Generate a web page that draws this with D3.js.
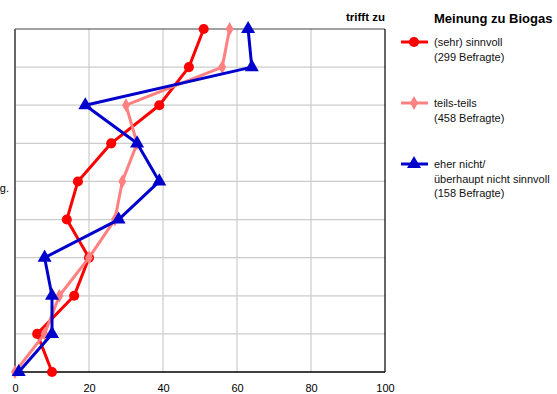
<!DOCTYPE html>
<html><head><meta charset="utf-8">
<script src="https://cdn.jsdelivr.net/npm/d3@7"></script>
<style>body{margin:0;background:#fff;} svg{display:block;font-family:"Liberation Sans",Arial,sans-serif;}</style>
</head><body><svg id="c" width="557" height="394"></svg>
<script>
const rows = [0,1,2,3,4,5,6,7,8,9];
const rowLabels = ["","","","","g.","","","","",""];
const xTicks = [0,20,40,60,80,100];
const sehrSinnvoll = [51,47,39,26,17,14,20,16,6,10];
const teilsTeils   = [58,56,30,33,29,27,20,12,8,0];
const eherNicht    = [63,64,19,33,39,28,8,10,10,1];
const legendLabels = [["(sehr) sinnvoll","(299 Befragte)"],["teils-teils","(458 Befragte)"],["eher nicht/","überhaupt nicht sinnvoll","(158 Befragte)"]];
const colors = ["#ff0000","#ff8080","#0000cc"];
const symbols = [d3.symbolCircle, d3.symbolDiamond, d3.symbolTriangle];
const symSizes = [80, 55, 85];
const values = [sehrSinnvoll, teilsTeils, eherNicht];

const svg = d3.select("#c");
const L=15,R=385,T=29,B=372;
const x = d3.scaleLinear().domain([0,100]).range([L,R]);
const y = d3.scalePoint().domain(rows).range([T,B]);

svg.append("g").selectAll("line").data(xTicks.slice(1,-1)).join("line")
 .attr("x1",d=>x(d)).attr("x2",d=>x(d)).attr("y1",T).attr("y2",B)
 .attr("stroke","#cccccc").attr("stroke-width",1.2);
svg.append("g").selectAll("line").data(rows.slice(1,-1)).join("line")
 .attr("x1",L).attr("x2",R).attr("y1",d=>y(d)).attr("y2",d=>y(d))
 .attr("stroke","#cccccc").attr("stroke-width",1.2);
svg.append("line").attr("x1",L).attr("x2",R).attr("y1",T).attr("y2",T).attr("stroke","#444").attr("stroke-width",1.2);
svg.append("line").attr("x1",R).attr("x2",R).attr("y1",T).attr("y2",B).attr("stroke","#000").attr("stroke-width",1.2);
svg.append("line").attr("x1",L).attr("x2",L).attr("y1",T).attr("y2",B).attr("stroke","#666").attr("stroke-width",2);
svg.append("line").attr("x1",L).attr("x2",R).attr("y1",B).attr("y2",B).attr("stroke","#000").attr("stroke-width",1.5);

const xa = d3.axisBottom(x).tickValues(xTicks).tickSize(0).tickPadding(12);
const ga = svg.append("g").attr("transform",`translate(0,${B})`).call(xa);
ga.select(".domain").remove();
ga.selectAll("text").attr("font-size",11).attr("fill","#000").attr("font-family","Liberation Sans, Arial, sans-serif");

svg.append("g").selectAll("text").data(rows).join("text")
 .attr("x",9).attr("y",d=>y(d)+11).attr("text-anchor","end")
 .attr("font-size",11).text(d=>rowLabels[d]);

const line = d3.line().x(d=>x(d.v)).y(d=>y(d.r));
values.forEach((vals,i)=>{
  const pts = vals.map((v,r)=>({v,r}));
  svg.append("path").attr("d",line(pts)).attr("fill","none")
   .attr("stroke",colors[i]).attr("stroke-width",3).attr("stroke-linejoin","round");
  svg.append("g").selectAll("path").data(pts).join("path")
   .attr("d",d3.symbol(symbols[i],symSizes[i])())
   .attr("transform",d=>`translate(${x(d.v)},${y(d.r)})`)
   .attr("fill",colors[i]);
});

svg.append("text").attr("x",R).attr("y",21).attr("text-anchor","end")
 .attr("font-size",11.5).attr("font-weight","bold").text("trifft zu");

svg.append("text").attr("x",434).attr("y",23).attr("font-size",13).attr("font-weight","bold").text("Meinung zu Biogas");
const ly = [42,103,164];
legendLabels.forEach((lines,i)=>{
  const g = svg.append("g");
  g.append("line").attr("x1",401).attr("x2",428).attr("y1",ly[i]).attr("y2",ly[i]).attr("stroke",colors[i]).attr("stroke-width",3);
  g.append("path").attr("d",d3.symbol(symbols[i],symSizes[i])()).attr("transform",`translate(414,${ly[i]})`).attr("fill",colors[i]);
  lines.forEach((t,j)=>{
    g.append("text").attr("x",434).attr("y",ly[i]+4+j*14.5).attr("font-size",11).attr("fill","#111").text(t);
  });
});
</script></body></html>
